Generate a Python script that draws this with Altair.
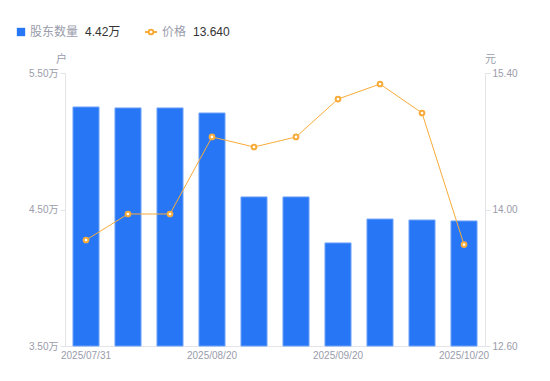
import altair as alt
import pandas as pd

dates = ["2025/07/31", "2025/08/10", "2025/08/15", "2025/08/20", "2025/08/31",
         "2025/09/10", "2025/09/20", "2025/09/30", "2025/10/10", "2025/10/20"]
holders = [5.251, 5.244, 5.244, 5.207, 4.592, 4.592, 4.255, 4.430, 4.423, 4.416]
prices = [13.687, 13.954, 13.954, 14.744, 14.641, 14.744, 15.133, 15.287, 14.990, 13.640]
shown_dates = ["2025/07/31", "2025/08/20", "2025/09/20", "2025/10/20"]

df = pd.DataFrame({"date": dates, "holders": holders, "price": prices})

BLUE = "#2776f6"
ORANGE = "#f7ac3a"
GRAY = "#9a9cab"
AXIS = "#e3e4e8"
FONT = "Liberation Sans, Noto Sans CJK SC"

x = alt.X("date:N", sort=dates,
          scale=alt.Scale(paddingInner=0.38, paddingOuter=0.19),
          axis=alt.Axis(title=None, values=shown_dates, labelAngle=0, labelColor=GRAY,
                        labelFontSize=10, labelFont=FONT, domainColor=AXIS, ticks=False,
                        labelPadding=4, labelOverlap=False))

bars = alt.Chart(df).mark_bar(color=BLUE, stroke="#6fa3f8", strokeWidth=1).encode(
    x=x,
    y=alt.Y("holders:Q", scale=alt.Scale(domain=[3.5, 5.5], nice=False, zero=False),
            axis=alt.Axis(values=[3.5, 4.5, 5.5], labelExpr="format(datum.value, '.2f') + '万'",
                          title="户", titleAngle=0, titleX=-4, titleY=-9, titleColor=GRAY,
                          titleFontWeight="normal", titleFontSize=11, titleFont=FONT,
                          labelColor=GRAY, labelFontSize=10, labelFont=FONT,
                          domainColor=AXIS, tickColor=AXIS, tickSize=5, grid=False,
                          labelPadding=2)),
    y2=alt.datum(3.5),
)

price_y = alt.Y("price:Q", scale=alt.Scale(domain=[12.6, 15.4], nice=False, zero=False),
                axis=alt.Axis(orient="right", values=[12.6, 14.0, 15.4], format=".2f",
                              title="元", titleAngle=0, titleX=5, titleY=-9, titleColor=GRAY,
                              titleFontWeight="normal", titleFontSize=11, titleFont=FONT,
                              labelColor=GRAY, labelFontSize=10, labelFont=FONT,
                              domainColor=AXIS, tickColor=AXIS, tickSize=5, grid=False,
                              labelPadding=2))

line = alt.Chart(df).mark_line(color=ORANGE, strokeWidth=1).encode(x=x, y=price_y)
pts = alt.Chart(df).mark_point(shape="circle", size=22, filled=True, fill="white",
                               stroke=ORANGE, strokeWidth=2, opacity=1).encode(x=x, y=price_y)

legend_df = pd.DataFrame({"a": [0]})
leg = alt.Chart(legend_df)
leg_sq = leg.mark_square(color=BLUE, size=70, opacity=1).encode(x=alt.value(-44), y=alt.value(-41))
leg_t1 = leg.mark_text(text="股东数量", color=GRAY, fontSize=12, font=FONT, align="left",
                       baseline="middle").encode(x=alt.value(-35), y=alt.value(-41))
leg_v1 = leg.mark_text(text="4.42万", color="#333333", fontSize=12, font=FONT, align="left",
                       baseline="middle").encode(x=alt.value(20), y=alt.value(-41))
leg_ln = leg.mark_rule(color=ORANGE, strokeWidth=2).encode(
    x=alt.value(80), x2=alt.value(92), y=alt.value(-41))
leg_pt = leg.mark_point(shape="circle", size=22, filled=True, fill="white", stroke=ORANGE,
                        strokeWidth=2, opacity=1).encode(x=alt.value(86), y=alt.value(-41))
leg_t2 = leg.mark_text(text="价格", color=GRAY, fontSize=12, font=FONT, align="left",
                       baseline="middle").encode(x=alt.value(97), y=alt.value(-41))
leg_v2 = leg.mark_text(text="13.640", color="#333333", fontSize=12, font=FONT, align="left",
                       baseline="middle").encode(x=alt.value(128), y=alt.value(-41))

main = alt.layer(bars, line + pts).resolve_scale(y="independent")

chart = alt.layer(main, leg_sq, leg_t1, leg_v1, leg_ln, leg_pt, leg_t2, leg_v2).properties(
    width=420, height=273,
    autosize=alt.AutoSizeParams(type="none"),
    padding={"left": 57, "top": 65, "right": 57, "bottom": 27},
).configure(background="white").configure_view(stroke=None)

chart.save("out.html", embed_options={"renderer": "svg", "actions": False})
